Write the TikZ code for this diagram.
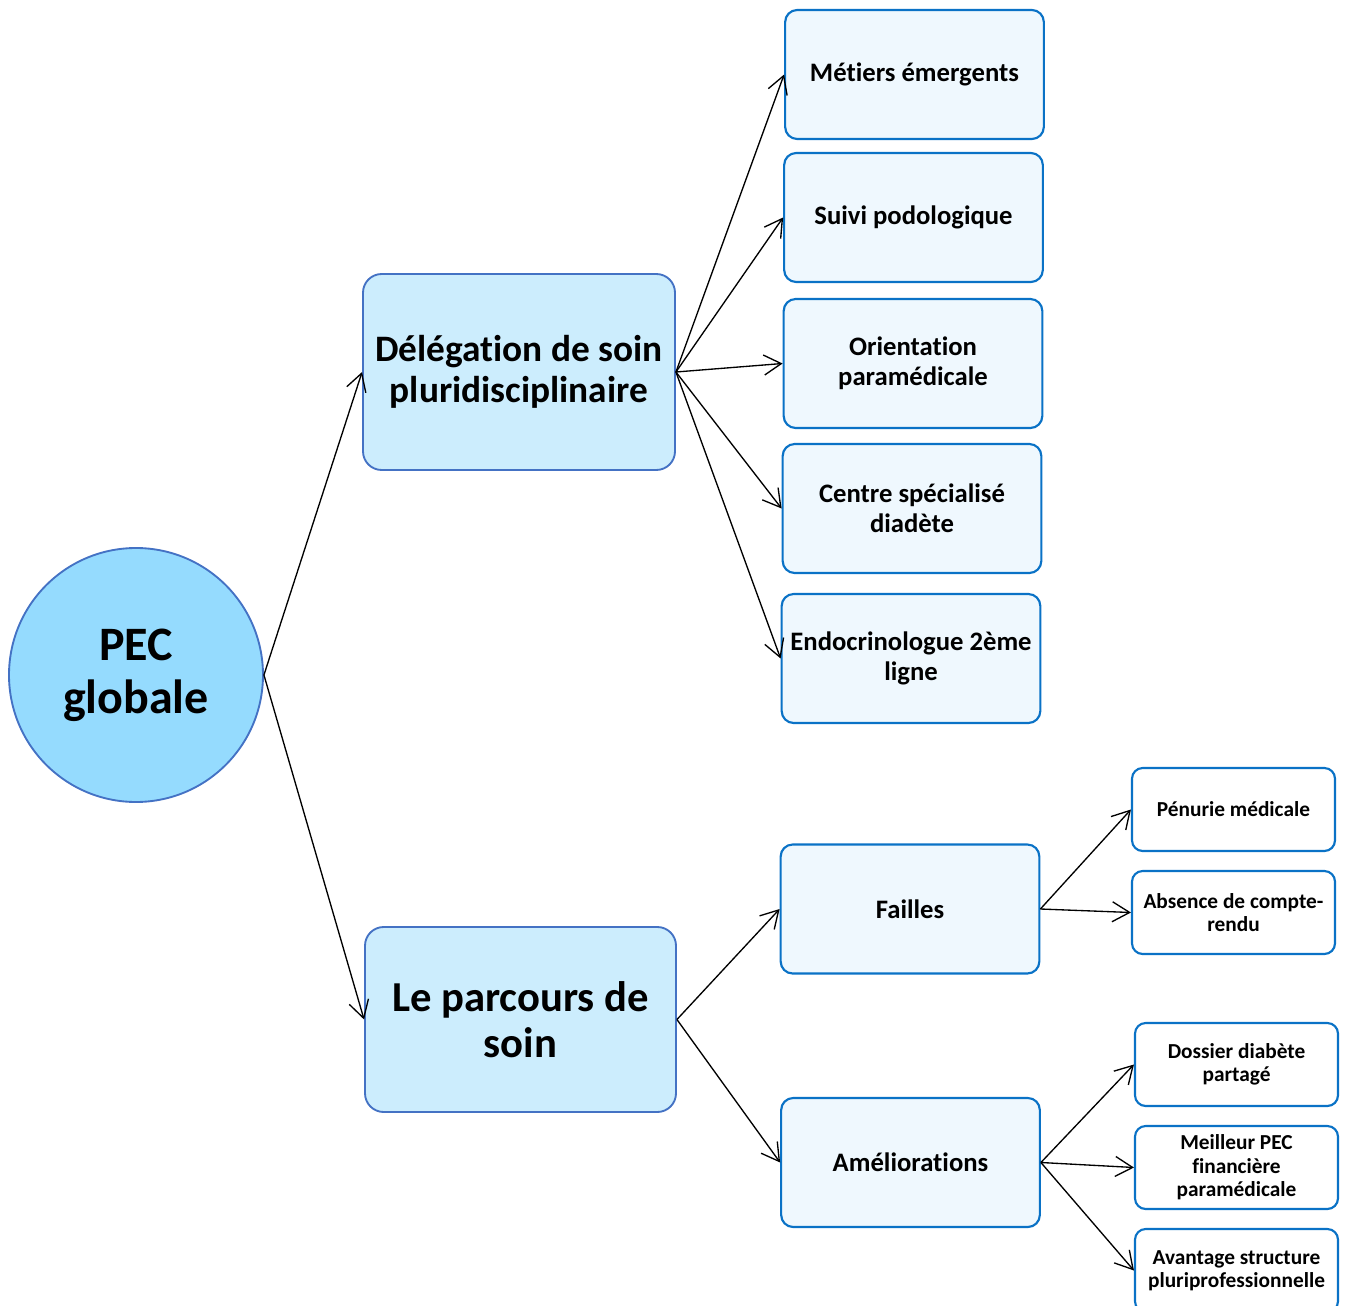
\documentclass[tikz,border=0pt]{standalone}
\usepackage{fontspec}
\setmainfont{Carlito}[Ligatures=NoCommon]
\usetikzlibrary{arrows.meta}

\definecolor{rootfill}{HTML}{95DBFE}
\definecolor{rootline}{HTML}{4472C4}
\definecolor{midfill}{HTML}{CCEDFD}
\definecolor{leaffill}{HTML}{EFF8FE}
\definecolor{leafline}{HTML}{0A72C6}

\def\wB{194pt}
\def\hB{96.75pt}
\def\wS{152.25pt}
\def\hS{62.25pt}

\begin{document}
\begin{tikzpicture}[x=0.75pt, y=-0.75pt,
    root/.style={shape=circle, draw=rootline, fill=rootfill, line width=1.4pt,
      minimum size=190.5pt, inner sep=0pt, align=center,
      font=\fontsize{36}{40}\selectfont\bfseries},
    mid/.style={shape=rectangle, rounded corners=14pt, draw=rootline, fill=midfill,
      line width=1.4pt, align=center, inner sep=0pt},
    leaf/.style={shape=rectangle, rounded corners=9pt, draw=leafline, fill=leaffill,
      line width=1.6pt, minimum width=\wB, minimum height=\hB, align=center,
      inner sep=0pt, font=\fontsize{20}{22.5}\selectfont\bfseries},
    small/.style={shape=rectangle, rounded corners=8pt, draw=leafline, fill=white,
      line width=1.6pt, minimum width=\wS, minimum height=\hS, align=center,
      inner sep=0pt, font=\fontsize{16}{17.6}\selectfont\bfseries},
    link/.style={-{Straight Barb[length=13pt,width=15pt]}, line width=1pt},
  ]
    \useasboundingbox (0,0) rectangle (1347,1306);

    %%   (lable)  (x, y)     {\text}
    \node[root] (PEC) at (136, 675) {PEC\\globale};

    \node[mid, minimum width=234pt, minimum height=147pt,
      font=\fontsize{28}{31}\selectfont\bfseries] (DEL) at (519, 372)
      {Délégation de soin\\pluridisciplinaire};
    \node[mid, minimum width=233.25pt, minimum height=138.75pt,
      font=\fontsize{32}{34.5}\selectfont\bfseries] (PAR) at (520.5, 1019.5)
      {Le parcours de\\soin};

    \node[leaf] (MET) at (914.5,  74.5) {Métiers émergents};
    \node[leaf] (SUI) at (913.5, 217.5) {Suivi podologique};
    \node[leaf] (ORI) at (913,   363.5) {Orientation\\paramédicale};
    \node[leaf] (CEN) at (912,   508.5) {Centre spécialisé\\diadète};
    \node[leaf] (END) at (911,   658.5) {Endocrinologue 2ème\\ligne};

    \node[leaf] (FAI) at (910,   909)   {Failles};
    \node[leaf] (AME) at (910.5, 1162.5) {Améliorations};

    \node[small] (PEN) at (1233.5, 809.5)  {Pénurie médicale};
    \node[small] (ABS) at (1233.5, 912.5)  {Absence de compte-\\rendu};
    \node[small] (DOS) at (1236.5, 1064.5) {Dossier diabète\\partagé};
    \node[small] (MEI) at (1236.5, 1167.5) {Meilleur PEC\\financière\\paramédicale};
    \node[small] (AVA) at (1236.5, 1270.5) {Avantage structure\\pluriprofessionnelle};

    \path[link] (PEC.east) edge (DEL.west);
    \path[link] (PEC.east) edge (PAR.west);

    \path[link] (DEL.east) edge (MET.west);
    \path[link] (DEL.east) edge (SUI.west);
    \path[link] (DEL.east) edge (ORI.west);
    \path[link] (DEL.east) edge (CEN.west);
    \path[link] (DEL.east) edge (END.west);

    \path[link] (PAR.east) edge (FAI.west);
    \path[link] (PAR.east) edge (AME.west);

    \path[link] (FAI.east) edge (PEN.west);
    \path[link] (FAI.east) edge (ABS.west);

    \path[link] (AME.east) edge (DOS.west);
    \path[link] (AME.east) edge (MEI.west);
    \path[link] (AME.east) edge (AVA.west);

  \end{tikzpicture}
\end{document}
